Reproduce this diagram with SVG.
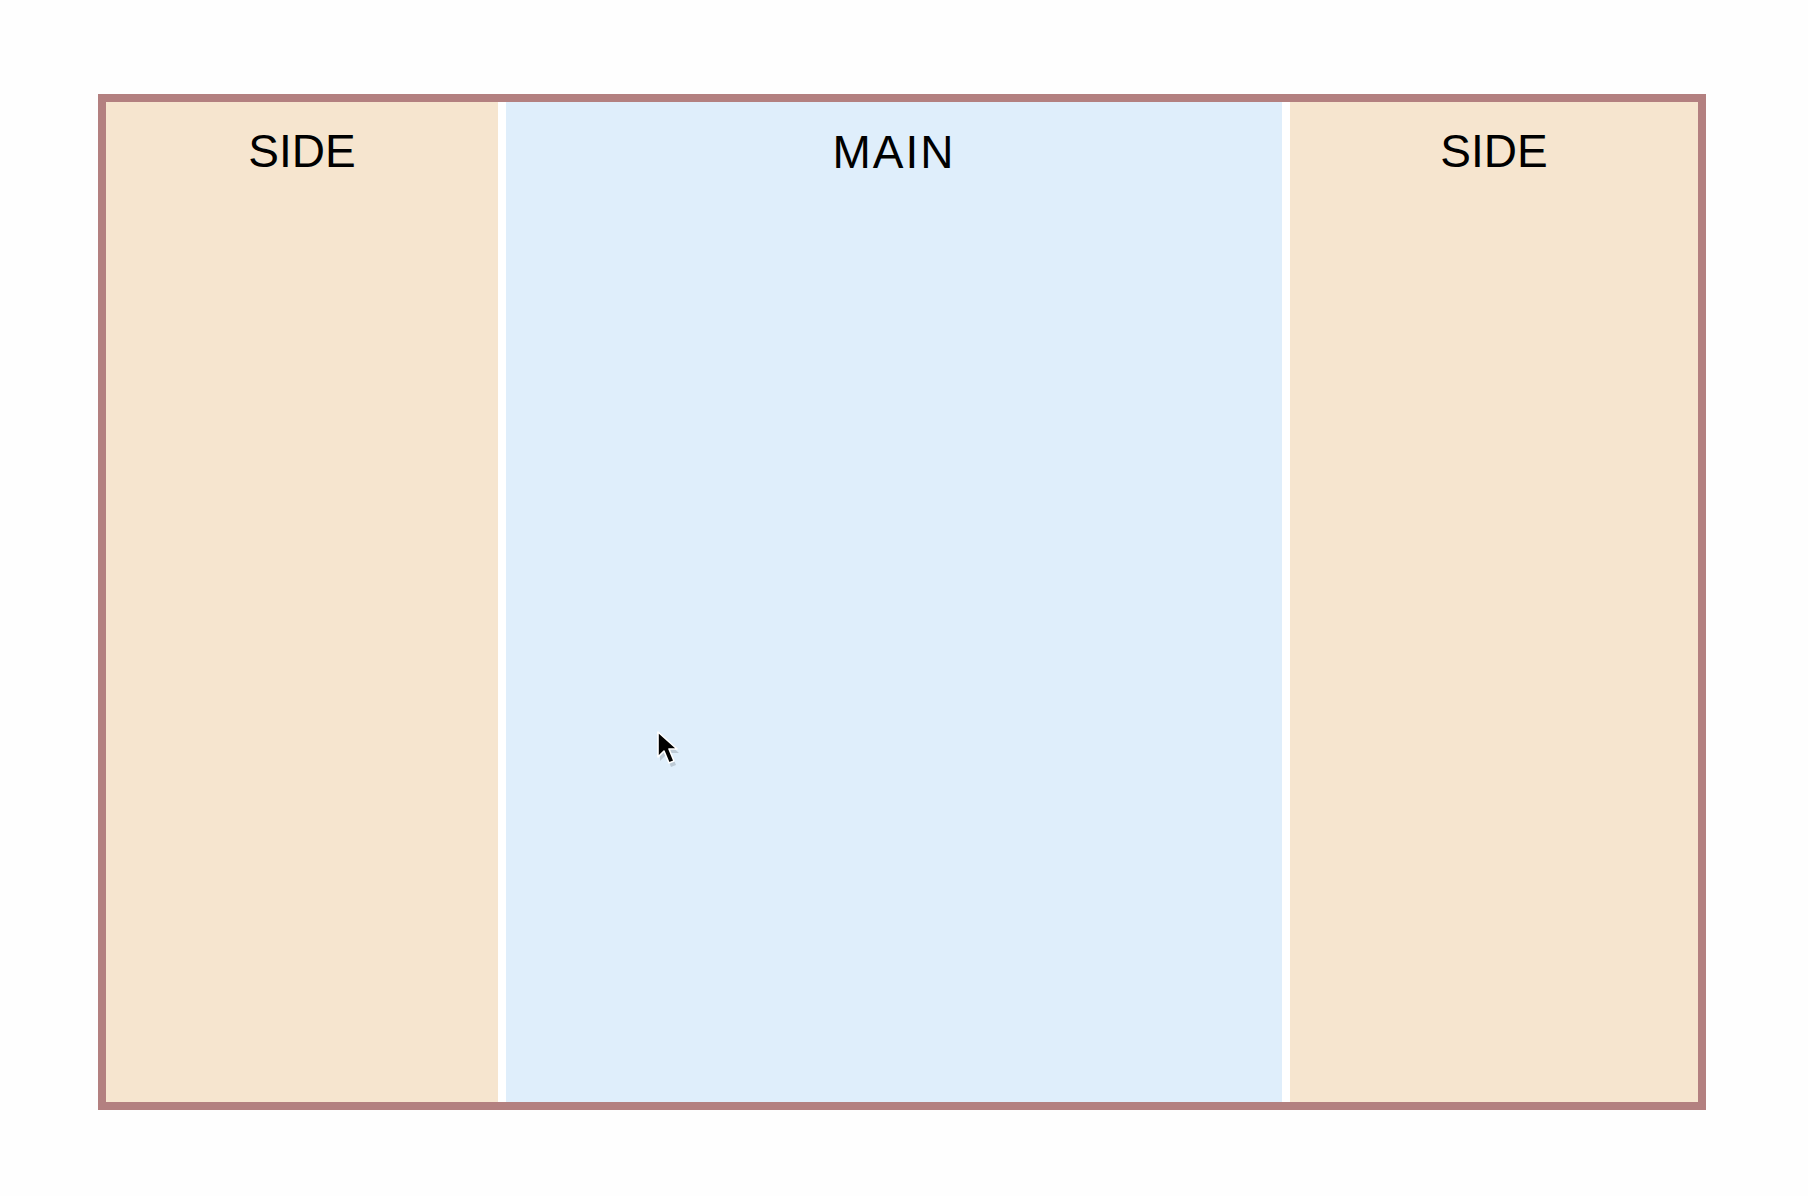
<svg xmlns="http://www.w3.org/2000/svg" width="1808" height="1196" viewBox="0 0 1808 1196">
  <style>
    .side { fill: #f6e5cf; }
    .main { fill: #dfeefb; }
    .label { font-family: "Liberation Sans", Arial, sans-serif; font-size: 46px; fill: #000; text-anchor: middle; }
  </style>
  <rect x="0" y="0" width="1808" height="1196" fill="#fefefe"/>
  <g id="frame">
    <rect x="102" y="98" width="1600" height="1008" fill="#ffffff" stroke="#b38080" stroke-width="8"/>
  </g>
  <g id="side-left">
    <rect class="side" x="106" y="102" width="392" height="1000"/>
    <text class="label" x="302" y="167">SIDE</text>
  </g>
  <g id="main">
    <rect class="main" x="506" y="102" width="776" height="1000"/>
    <text class="label" x="894" y="168" letter-spacing="2">MAIN</text>
  </g>
  <g id="side-right">
    <rect class="side" x="1290" y="102" width="408" height="1000"/>
    <text class="label" x="1494" y="167">SIDE</text>
  </g>
  <g id="connectors"></g>
  <g id="cursor">
    <path d="M659 734 L659 759 L665 753 L670 765 L675 763 L670 751 L678 751 Z" fill="#000" fill-opacity="0.15" transform="translate(1,2)"/>
    <path d="M658 732 L658 757 L664 751 L669 763 L674 761 L669 749 L677 749 Z" fill="#000" stroke="#fff" stroke-width="1.6" stroke-linejoin="round"/>
  </g>
</svg>
